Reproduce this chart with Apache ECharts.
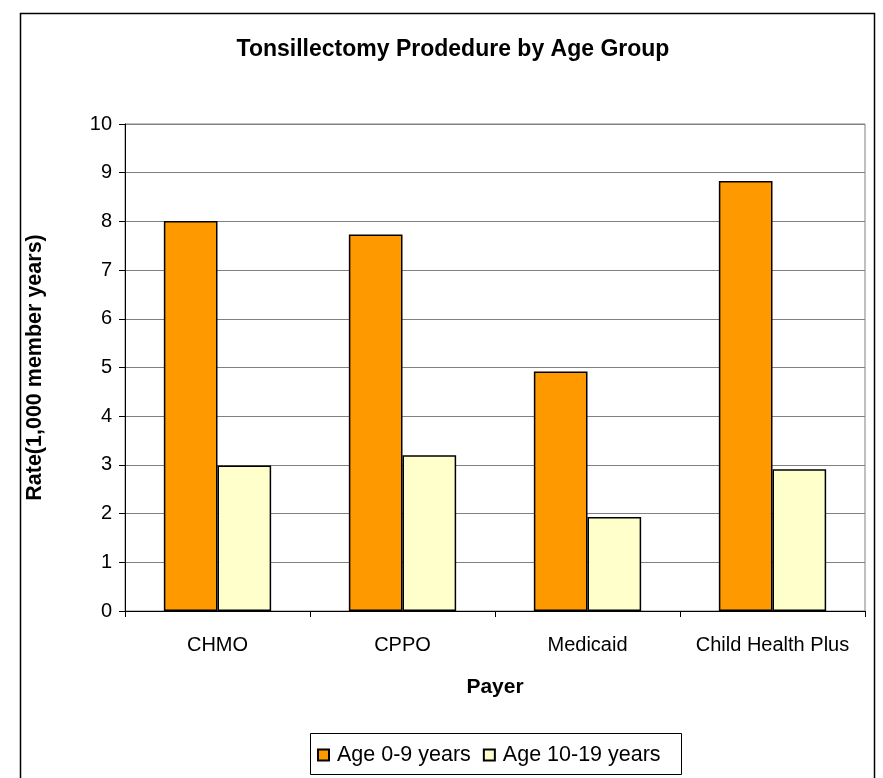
<!DOCTYPE html>
<html>
<head>
<meta charset="utf-8">
<script src="https://cdn.jsdelivr.net/npm/echarts@6/dist/echarts.min.js"></script>
<style>
html,body{margin:0;padding:0;background:#fff;}
#chart{width:883px;height:778px;}
</style>
</head>
<body>
<div id="chart"></div>
<script>
const categories = ['CHMO', 'CPPO', 'Medicaid', 'Child Health Plus'];
const age0to9 = [8.01, 7.73, 4.92, 8.83];
const age10to19 = [2.99, 3.2, 1.93, 2.91];
const yTicks = [0, 1, 2, 3, 4, 5, 6, 7, 8, 9, 10];

const chart = echarts.init(document.getElementById('chart'));
const font = 'Liberation Sans, Arial, sans-serif';
chart.setOption({
  animation: false,
  backgroundColor: '#fff',
  title: {
    text: 'Tonsillectomy Prodedure by Age Group',
    left: 448, top: 33, textAlign: 'center',
    textStyle: { fontFamily: font, fontSize: 23, fontWeight: 'bold', color: '#000' }
  },
  graphic: [{
    type: 'rect', left: 18, top: 11, silent: true,
    shape: { width: 854, height: 790 },
    style: { fill: 'none', stroke: '#000', lineWidth: 1.5 }
  }, {
    type: 'rect', left: 308, top: 731, silent: true,
    shape: { width: 371, height: 41 },
    style: { fill: 'none', stroke: '#000', lineWidth: 1 }
  }],
  legend: {
    left: 312, top: 739,
    itemWidth: 11, itemHeight: 11, itemGap: 12,
    icon: 'rect',
    textStyle: { fontFamily: font, fontSize: 21.5, color: '#000', padding: [0, 0, 0, 3] },
    data: ['Age 0-9 years', 'Age 10-19 years']
  },
  grid: { left: 125, right: 18, top: 124, bottom: 167, show: true, borderColor: '#808080', borderWidth: 1 },
  xAxis: {
    type: 'category', data: categories,
    name: 'Payer', nameLocation: 'middle', nameGap: 66,
    nameTextStyle: { fontFamily: font, fontSize: 21, fontWeight: 'bold', color: '#000' },
    axisLine: { lineStyle: { color: '#000' } },
    axisTick: { show: true, length: 6, interval: 0, lineStyle: { color: '#000' } },
    axisLabel: { fontFamily: font, fontSize: 20, color: '#000', margin: 24, interval: 0 }
  },
  yAxis: {
    type: 'value', min: yTicks[0], max: yTicks[yTicks.length - 1], interval: 1,
    name: 'Rate(1,000 member years)', nameLocation: 'middle', nameGap: 79,
    nameTextStyle: { fontFamily: font, fontSize: 21.5, fontWeight: 'bold', color: '#000' },
    axisLine: { show: true, lineStyle: { color: '#000' } },
    axisTick: { show: true, length: 6, lineStyle: { color: '#000' } },
    axisLabel: { fontFamily: font, fontSize: 20, color: '#000', margin: 13 },
    splitLine: { show: true, lineStyle: { color: '#808080', width: 1 } }
  },
  series: [{
    name: 'Age 0-9 years', type: 'bar', data: age0to9,
    barGap: '0%', barCategoryGap: '42%',
    itemStyle: { color: '#FF9900', borderColor: '#000', borderWidth: 1.5 }
  }, {
    name: 'Age 10-19 years', type: 'bar', data: age10to19,
    itemStyle: { color: '#FFFFCC', borderColor: '#000', borderWidth: 1.5 }
  }]
});
</script>
</body>
</html>
